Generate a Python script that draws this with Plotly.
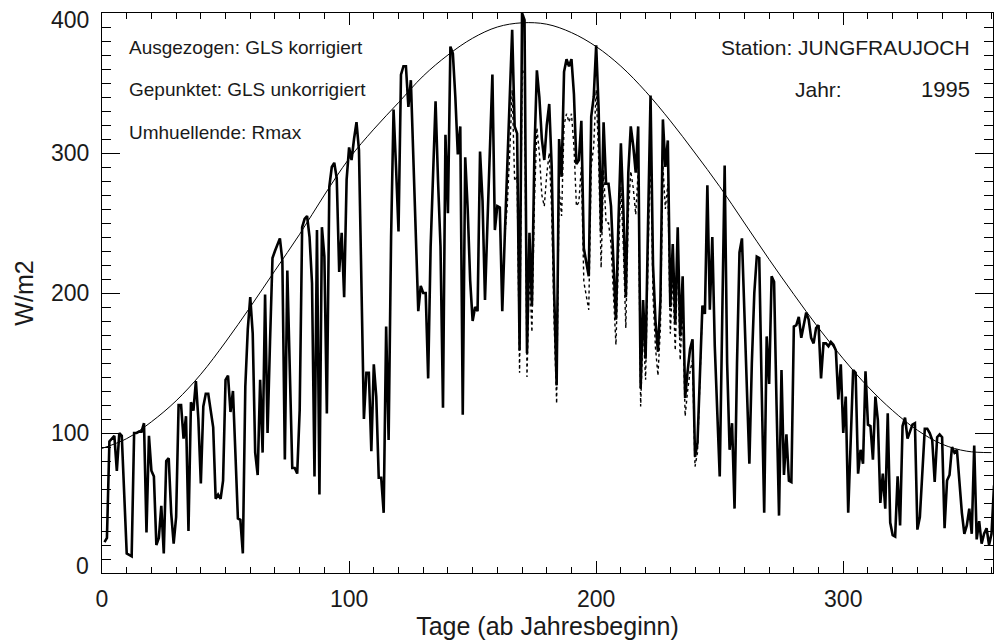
import plotly.graph_objects as go

# Tagesmittel der Globalstrahlung (GLS), Station Jungfraujoch 1995
tage = list(range(1, 363))

gls_korrigiert = [
    22, 25, 94, 96, 98, 73, 100, 98, 60, 14,
    13, 12, 100, 100, 101, 101, 107, 29, 98, 73,
    69, 20, 25, 48, 14, 80, 82, 43, 21, 40,
    120, 120, 96, 112, 30, 122, 116, 137, 110, 64,
    119, 128, 128, 117, 104, 53, 56, 53, 66, 138,
    141, 115, 130, 85, 39, 38, 14, 133, 174, 197,
    171, 86, 70, 138, 86, 199, 100, 165, 225, 230,
    235, 239, 223, 81, 216, 150, 75, 75, 71, 116,
    247, 253, 255, 240, 207, 69, 245, 56, 247, 226,
    114, 276, 290, 293, 282, 215, 243, 197, 281, 304,
    295, 310, 322, 302, 200, 110, 143, 143, 87, 149,
    126, 68, 68, 43, 176, 95, 240, 331, 290, 244,
    356, 362, 362, 333, 352, 300, 240, 187, 205, 200,
    200, 139, 233, 290, 337, 280, 233, 118, 313, 257,
    376, 371, 340, 299, 319, 113, 297, 260, 209, 180,
    190, 187, 301, 266, 195, 250, 300, 356, 245, 262,
    261, 187, 240, 286, 340, 388, 319, 314, 159, 400,
    395, 157, 243, 191, 300, 359, 340, 310, 295, 320,
    335, 290, 200, 134, 310, 283, 358, 367, 362, 367,
    342, 292, 295, 323, 232, 221, 212, 326, 340, 377,
    331, 243, 322, 278, 278, 262, 226, 181, 250, 307,
    260, 197, 286, 319, 305, 286, 319, 132, 195, 153,
    250, 341, 220, 180, 158, 195, 324, 290, 309, 190,
    235, 178, 247, 169, 212, 125, 144, 160, 167, 83,
    93, 147, 191, 185, 277, 188, 240, 162, 120, 69,
    180, 291, 150, 88, 107, 46, 150, 229, 239, 184,
    130, 78, 150, 200, 226, 225, 130, 43, 169, 135,
    212, 208, 120, 41, 145, 70, 99, 66, 65, 176,
    177, 183, 168, 178, 186, 181, 168, 164, 175, 177,
    139, 164, 164, 162, 165, 163, 159, 124, 149, 100,
    126, 43, 95, 145, 143, 71, 88, 78, 144, 106,
    105, 81, 126, 109, 50, 71, 46, 114, 36, 27,
    26, 69, 34, 105, 111, 96, 101, 106, 107, 31,
    40, 71, 103, 103, 100, 95, 65, 97, 99, 97,
    32, 66, 70, 90, 86, 88, 62, 43, 28, 34,
    46, 28, 91, 24, 37, 21, 28, 32, 20, 28,
    62, 70,
]

# unkorrigierte Werte, nur im Sommer sichtbar von den korrigierten verschieden
tage_unkorr = list(range(163, 244))
gls_unkorrigiert = [
    240, 262, 300, 345, 280, 283, 143, 360, 355, 140,
    215, 172, 265, 318, 300, 270, 262, 285, 300, 258,
    178, 121, 275, 255, 320, 328, 322, 328, 305, 262,
    265, 290, 208, 197, 188, 290, 305, 345, 296, 218,
    288, 250, 250, 235, 203, 163, 224, 276, 233, 175,
    257, 287, 275, 256, 287, 119, 175, 138, 225, 306,
    198, 161, 141, 175, 291, 260, 278, 171, 211, 159,
    222, 152, 190, 112, 130, 144, 152, 76, 86, 140,
    191,
]

# Umhuellende Rmax
tage_rmax = list(range(0, 370, 10))
rmax = [
    89, 96, 108, 123, 142, 165, 190, 216, 242, 270,
    296, 317, 336, 355, 370, 382, 390, 393, 392, 386,
    376, 362, 344, 323, 300, 276, 250, 224, 199, 175,
    153, 133, 116, 102, 92, 87, 86,
]

x_ticks = [0, 100, 200, 300]
y_ticks = [0, 100, 200, 300, 400]

schrift = dict(family="Liberation Sans", color="#1a1a1a")

fig = go.Figure()
fig.add_trace(go.Scatter(
    x=tage_rmax, y=rmax, mode="lines", line=dict(color="black", width=1, shape="spline"),
    hoverinfo="skip", showlegend=False))
fig.add_trace(go.Scatter(
    x=tage_unkorr, y=gls_unkorrigiert, mode="lines",
    line=dict(color="black", width=1.4, dash="dot"), showlegend=False))
fig.add_trace(go.Scatter(
    x=tage, y=gls_korrigiert, mode="lines",
    line=dict(color="black", width=2.6), showlegend=False))
# leere Spur fuer die Gegenachsen (oben / rechts)
fig.add_trace(go.Scatter(x=[None], y=[None], xaxis="x2", yaxis="y2",
                         showlegend=False, hoverinfo="skip"))

gemeinsam = dict(
    showline=True, linecolor="black", linewidth=1.3,
    ticks="inside", tickcolor="black", tickwidth=1.2,
    showgrid=False, zeroline=False,
)
x_achse = dict(range=[0, 360.6], tickvals=x_ticks, ticklen=12,
               minor=dict(ticks="inside", ticklen=6, dtick=10, tick0=0,
                          tickcolor="black", tickwidth=1.2), **gemeinsam)
y_achse = dict(range=[0, 400], tickvals=y_ticks, ticklen=18,
               minor=dict(ticks="inside", ticklen=9, dtick=10, tick0=0,
                          tickcolor="black", tickwidth=1.2), **gemeinsam)

W, H = 994, 644
L, R, T, B = 102, 1, 13, 71

fig.update_layout(
    width=W, height=H, margin=dict(l=L, r=R, t=T, b=B),
    paper_bgcolor="white", plot_bgcolor="white", font=schrift,
    xaxis=dict(**x_achse, tickfont=dict(size=23, **schrift), ticklabelstandoff=5,
               title=dict(text="Tage (ab Jahresbeginn)", font=dict(size=25, **schrift), standoff=4)),
    yaxis=dict(**y_achse, showticklabels=False,
               title=dict(text="W/m2", font=dict(size=25, **schrift), standoff=60)),
    xaxis2=dict(**x_achse, overlaying="x", side="top", showticklabels=False),
    yaxis2=dict(**y_achse, overlaying="y", side="right", showticklabels=False),
)

# y-Beschriftung: Randwerte leicht nach innen versetzt
for wert in y_ticks:
    versatz = -7 if wert == y_ticks[-1] else (7 if wert == y_ticks[0] else 0)
    fig.add_annotation(text=str(wert), xref="paper", yref="y", x=0, y=wert,
                       xanchor="right", yanchor="middle", xshift=-11, yshift=versatz,
                       showarrow=False, font=dict(size=23, **schrift))

texte = [
    ("Ausgezogen: GLS korrigiert", 127, 47, "left", 19),
    ("Gepunktet: GLS unkorrigiert", 127, 90, "left", 19),
    ("Umhuellende: Rmax", 127, 132, "left", 19),
    ("Station: JUNGFRAUJOCH", 972, 47, "right", 21),
    ("Jahr:", 793, 90, "left", 21),
    ("1995", 972, 90, "right", 22),
]
for txt, px, py, ausr, gr in texte:
    fig.add_annotation(
        text=txt, xref="paper", yref="paper",
        x=(px - L) / (W - L - R), y=1 - (py - T) / (H - T - B),
        xanchor=ausr, yanchor="middle", showarrow=False,
        font=dict(size=gr, **schrift))

fig.write_html("out.html")
